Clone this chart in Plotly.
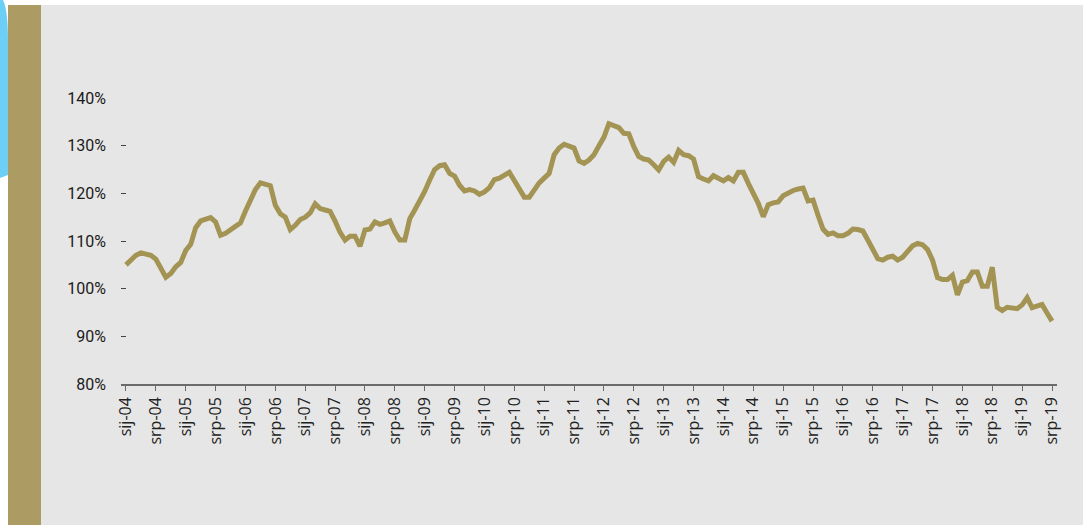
import plotly.graph_objects as go

# Monthly index values (%), January 2004 - July 2019
values = [
    105.0, 106.0, 107.0, 107.5, 107.2, 107.0, 106.2, 104.0, 102.4, 103.2, 104.6, 105.5,  # 2004
    108.0, 109.3, 112.8, 114.2, 114.6, 114.9, 114.0, 111.2, 111.6, 112.4, 113.2, 113.8,  # 2005
    116.3, 118.3, 120.8, 122.2, 122.0, 121.6, 117.5, 115.7, 115.0, 112.4, 113.3, 114.5,  # 2006
    115.0, 115.9, 117.8, 116.8, 116.5, 116.2, 114.2, 111.8, 110.2, 111.0, 111.0, 108.9,  # 2007
    112.3, 112.5, 114.0, 113.5, 113.8, 114.2, 111.9, 110.2, 110.2, 114.7, 116.5, 118.4,  # 2008
    120.4, 122.8, 125.0, 125.8, 126.0, 124.2, 123.6, 121.7, 120.5, 120.8, 120.5, 119.8,  # 2009
    120.3, 121.2, 122.9, 123.2, 123.8, 124.4, 122.7, 120.8, 119.2, 119.2, 120.7, 122.2,  # 2010
    123.2, 124.2, 128.1, 129.5, 130.3, 130.0, 129.5, 126.8, 126.3, 127.0, 128.1, 130.0,  # 2011
    131.8, 134.6, 134.3, 133.8, 132.6, 132.5, 129.8, 127.7, 127.2, 127.0, 126.0, 124.9,  # 2012
    126.7, 127.6, 126.5, 129.0, 128.1, 127.9, 127.2, 123.5, 123.0, 122.6, 123.7, 123.2,  # 2013
    122.6, 123.3, 122.6, 124.4, 124.4, 122.1, 120.0, 117.9, 115.1, 117.6, 118.0, 118.2,  # 2014
    119.5, 120.2, 120.6, 120.9, 121.1, 118.4, 118.6, 115.4, 112.5, 111.4, 111.7, 111.1,  # 2015
    111.1, 111.6, 112.5, 112.4, 112.1, 110.2, 108.2, 106.3, 106.0, 106.6, 106.8, 106.0,  # 2016
    106.6, 107.8, 109.0, 109.5, 109.2, 108.2, 106.0, 102.3, 101.9, 101.9, 102.8, 98.7,   # 2017
    101.4, 101.7, 103.5, 103.5, 100.5, 100.5, 104.5, 96.1, 95.4, 96.1, 96.0, 95.8,       # 2018
    96.6, 98.1, 96.0, 96.4, 96.7, 94.9, 93.2,                                              # 2019
]
months = list(range(len(values)))

years = [f"{y:02d}" for y in range(4, 20)]
tick_text = [f"{m}-{y}" for y in years for m in ("sij", "srp")]
tick_vals = list(range(0, 6 * len(tick_text), 6))

y_ticks = [80, 90, 100, 110, 120, 130, 140]
y_tick_text = [f"{v}%" for v in y_ticks]

LINE = "#a39454"
TAN = "#ad9b64"
BG = "#e6e6e6"
BLUE = "#6dcff6"

W, H = 1083, 525
L, R, T, B = 121, 26, 98, 141
PW, PH = W - L - R, H - T - B


def px(x):
    return (x - L) / PW


def py(y):
    return (H - B - y) / PH


fig = go.Figure()
fig.add_trace(go.Scatter(
    x=months, y=values, mode="lines",
    line=dict(color=LINE, width=5, shape="linear"),
    hoverinfo="skip", showlegend=False,
))

shapes = [
    # grey panel
    dict(type="rect", xref="paper", yref="paper", layer="below",
         x0=px(41), x1=px(W), y0=py(5), y1=py(H), fillcolor=BG, line=dict(width=0)),
    # tan side band
    dict(type="rect", xref="paper", yref="paper", layer="below",
         x0=px(8), x1=px(41), y0=py(5), y1=py(H), fillcolor=TAN, line=dict(width=0)),
    # blue corner accent
    dict(type="path", xref="paper", yref="paper", layer="below",
         path=(f"M {px(0)},{py(0)} L {px(3)},{py(0)} "
               f"Q {px(8)},{py(10)} {px(8)},{py(40)} "
               f"L {px(8)},{py(175)} L {px(0)},{py(178)} Z"),
         fillcolor=BLUE, line=dict(width=0)),
]

fig.update_layout(
    width=W, height=H,
    margin=dict(l=L, r=R, t=T, b=B, pad=0),
    paper_bgcolor="white",
    plot_bgcolor="rgba(0,0,0,0)",
    shapes=shapes,
    showlegend=False,
    xaxis=dict(
        range=[-1, len(values)],
        tickmode="array", tickvals=tick_vals, ticktext=tick_text,
        tickangle=-90,
        showgrid=False, zeroline=False,
        showline=True, linecolor="#6b6b6b", linewidth=1.5,
        ticks="outside", ticklen=5, tickwidth=1.2, tickcolor="#6b6b6b",
        tickfont=dict(family="Open Sans", size=16, color="#222222"),
        fixedrange=True,
    ),
    yaxis=dict(
        range=[80, 140],
        tickmode="array", tickvals=y_ticks, ticktext=y_tick_text,
        showgrid=False, zeroline=False, showline=False,
        ticks="inside", ticklen=5, tickwidth=1.2, tickcolor="#444444",
        ticklabelstandoff=14,
        tickfont=dict(family="Roboto", size=16, color="#1a1a1a"),
        fixedrange=True,
    ),
)

fig.write_html("out.html", config={"displayModeBar": False})
